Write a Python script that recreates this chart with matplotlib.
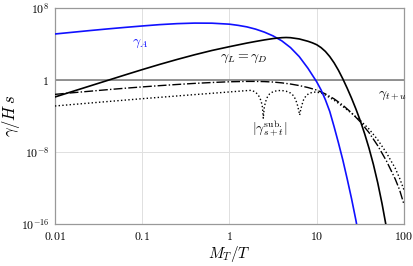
import numpy as np
import matplotlib.pyplot as plt

plt.rcParams['mathtext.fontset'] = 'cm'
plt.rcParams['font.family'] = 'serif'
plt.rcParams['font.serif'] = ['DejaVu Serif']

# all curves stored as (log10 M_T/T, log10 gamma/Hs)
blue_lx = [-2.0, -1.8, -1.6, -1.4, -1.2, -1.0, -0.8, -0.6, -0.4, -0.2, 0.0, 0.1, 0.2, 0.3, 0.4,
           0.5, 0.6, 0.7, 0.8, 0.9, 1.0, 1.05, 1.1, 1.15, 1.2, 1.25, 1.3, 1.35, 1.4, 1.45, 1.48]
blue_ly = [5.11, 5.30, 5.49, 5.67, 5.84, 6.0, 6.15, 6.26, 6.32, 6.31, 6.2, 6.07, 5.9, 5.65, 5.32,
           4.9, 4.35, 3.6, 2.6, 1.3, -0.2, -1.1, -2.2, -3.5, -5.2, -7.0, -8.9, -11.0, -13.2, -15.6, -17.2]

black_lx = [-2.0, -1.8, -1.6, -1.4, -1.2, -1.0, -0.8, -0.6, -0.4, -0.2, 0.0, 0.1, 0.2, 0.3, 0.4, 0.5,
            0.6, 0.65, 0.7, 0.8, 0.9, 0.95, 1.0, 1.05, 1.1, 1.15, 1.2, 1.25, 1.3, 1.35, 1.4, 1.45,
            1.5, 1.55, 1.6, 1.65, 1.7, 1.75, 1.8]
black_ly = [-1.89, -1.28, -0.67, -0.06, 0.55, 1.15, 1.73, 2.28, 2.8, 3.28, 3.7, 3.9, 4.1, 4.28, 4.45, 4.6,
            4.7, 4.72, 4.7, 4.56, 4.3, 4.13, 3.92, 3.6, 3.17, 2.6, 1.9, 1.07, 0.12, -0.92, -2.03, -3.23,
            -4.53, -5.98, -7.58, -9.38, -11.43, -13.78, -16.43]

tu_lx = [-2.0, -1.8, -1.6, -1.4, -1.2, -1.0, -0.8, -0.6, -0.4, -0.2, 0.0, 0.2, 0.3, 0.4, 0.5, 0.6,
         0.7, 0.8, 0.9, 1.0, 1.1, 1.2, 1.3, 1.4, 1.5, 1.6, 1.7, 1.8, 1.9, 1.95, 2.0]
tu_ly = [-1.6, -1.42, -1.25, -1.08, -0.92, -0.77, -0.63, -0.5, -0.38, -0.28, -0.2, -0.16, -0.16, -0.18, -0.23, -0.32,
         -0.45, -0.62, -0.84, -1.12, -1.55, -2.1, -2.8, -3.65, -4.65, -5.85, -7.3, -9.0, -11.0, -12.2, -13.8]

st_lx = [-2.0, -1.5, -1.0, -0.5, 0.0, 0.2, 0.25, 0.29, 0.32, 0.345, 0.365, 0.378, 0.385, 0.388,
         0.392, 0.40, 0.415, 0.435, 0.46, 0.50, 0.55, 0.6, 0.65, 0.7, 0.735, 0.76, 0.78, 0.795, 0.805,
         0.815, 0.83, 0.85, 0.875, 0.91, 0.96, 1.0, 1.05, 1.1, 1.2, 1.3, 1.4, 1.5, 1.6, 1.7, 1.8,
         1.9, 1.95, 2.0]
st_ly = [-2.89, -2.48, -2.08, -1.7, -1.33, -1.18, -1.15, -1.3, -1.55, -1.9, -2.4, -3.0, -3.8, -4.25,
         -3.8, -3.0, -2.4, -1.9, -1.55, -1.3, -1.18, -1.17, -1.25, -1.45, -1.75, -2.2, -2.8, -3.4, -3.9,
         -3.4, -2.8, -2.2, -1.8, -1.5, -1.35, -1.35, -1.45, -1.68, -2.25, -2.95, -3.7, -4.5, -5.45, -6.65, -8.1,
         -9.8, -10.9, -12.2]

xticks = [0.01, 0.1, 1, 10, 100]
xtick_labels = ['$0.01$', '$0.1$', '$1$', '$10$', '$100$']
yticks = [1e-16, 1e-8, 1, 1e8]
ytick_labels = ['$10^{-16}$', '$10^{-8}$', '$1$', '$10^{8}$']


def curve(lx, ly):
    return 10.0 ** np.array(lx), 10.0 ** np.array(ly)


fig = plt.figure(figsize=(4.13, 2.66), dpi=100)
ax = fig.add_axes([0.133, 0.158, 0.845, 0.812])

ax.axhline(1, color='#808080', lw=1.2, zorder=2)

ax.plot(*curve(blue_lx, blue_ly), color='#1010ff', lw=1.2, zorder=4)
ax.plot(*curve(black_lx, black_ly), color='black', lw=1.2, zorder=4)
ax.plot(*curve(tu_lx, tu_ly), color='black', lw=1.0, ls='-.', zorder=3)
ax.plot(*curve(st_lx, st_ly), color='black', lw=1.0, ls=':', zorder=3)

ax.text(0.076, 10**4.1, r'$\gamma_A$', color='#1010ff', fontsize=10, va='center')
ax.text(0.78, 10**2.45, r'$\gamma_L = \gamma_D$', color='black', fontsize=10, va='center')
ax.text(50, 10**-1.7, r'$\gamma_{t+u}$', color='black', fontsize=10, va='center')
ax.text(2.9, 10**-5.45, r'$|\gamma^{\rm sub.}_{s+t}|$', color='black', fontsize=10, va='center', ha='center')

ax.set_xscale('log')
ax.set_yscale('log')
ax.set_xlim(0.01, 100)
ax.set_ylim(1e-16, 1e8)
ax.set_xticks(xticks)
ax.set_xticklabels(xtick_labels)
ax.set_yticks(yticks)
ax.set_yticklabels(ytick_labels)
ax.minorticks_off()
ax.tick_params(length=0, labelsize=8.5, pad=4)
ax.grid(True, color='#e0e0e0', lw=0.7, zorder=0)
for s in ax.spines.values():
    s.set_color('#999999')
    s.set_linewidth(0.9)

ax.set_xlabel(r'$M_T/T$', fontsize=11)
ax.set_ylabel(r'$\gamma/H\,s$', fontsize=12)
ax.xaxis.set_label_coords(0.5, -0.095)
ax.yaxis.set_label_coords(-0.095, 0.5)

fig.savefig('out.png', dpi=100)
